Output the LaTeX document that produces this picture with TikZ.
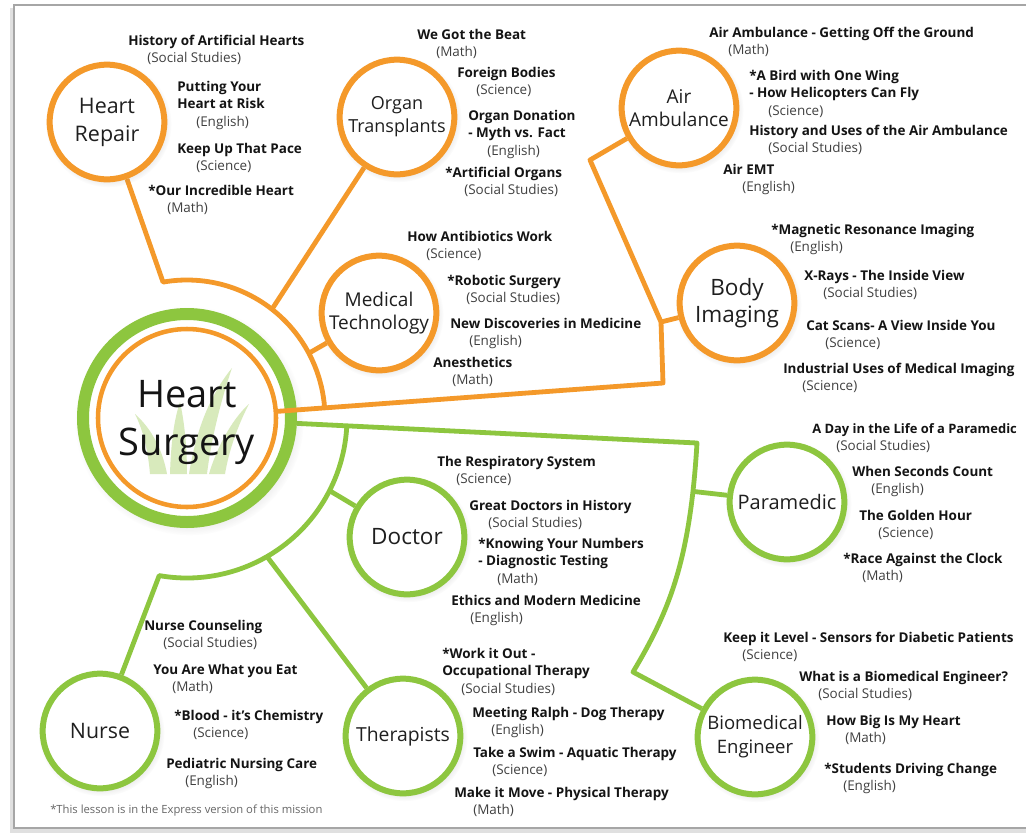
\documentclass[tikz,border=0pt]{standalone}
\usepackage{fontspec}
\setmainfont{Open Sans}
\usetikzlibrary{calc,shadows,fadings}
\definecolor{hsorange}{RGB}{244,153,42}
\definecolor{hsgreen}{RGB}{141,198,63}
\definecolor{hsgrass}{RGB}{216,234,188}
\pgfdeclarelayer{back}
\pgfdeclarelayer{links}
\pgfsetlayers{back,links,main}

% one lesson: name, x, baseline y, title, subject
\newcommand\lsn[5]{%
  \node[ttl] (#1) at (#2,#3) {#4};
  \node[sbj] (#1s) at (#2+19,#3+17) {#5};}
% lesson with a two-line title
\newcommand\lsnn[6]{%
  \node[ttl] (#1) at (#2,#3) {#4};
  \node[ttl] (#1b) at (#2,#3+17.5) {#5};
  \node[sbj] (#1s) at (#2+19,#3+35) {#6};}

\tikzset{
  ocirc/.style={circle, draw=hsorange, line width=4.5pt, fill=white,
    minimum size=86pt, inner sep=0pt, align=center, text=black!88,
    circular drop shadow={opacity=0.2, shadow xshift=1pt, shadow yshift=-1.5pt}},
  gcirc/.style={ocirc, draw=hsgreen},
  hubring/.style={circle, draw=hsgreen, line width=9pt, fill=white,
    minimum size=156pt, inner sep=0pt,
    circular drop shadow={opacity=0.22, shadow xshift=1.5pt, shadow yshift=-2pt}},
  hubcore/.style={circle, draw=hsorange, line width=3.4pt, fill=white,
    minimum size=133.5pt, inner sep=0pt},
  hubtxt/.style={anchor=base, inner sep=0pt, text=black!92,
    font=\fontsize{28.5pt}{34pt}\selectfont},
  oline/.style={draw=hsorange, line width=3.6pt, line join=round},
  gline/.style={draw=hsgreen, line width=3.6pt, line join=round},
  ttl/.style={anchor=base west, inner sep=0pt, text=black!92,
    font=\bfseries\fontsize{10.1pt}{12pt}\selectfont},
  sbj/.style={anchor=base west, inner sep=0pt, text=black!75,
    font=\fontsize{10.1pt}{12pt}\selectfont},
  note/.style={anchor=base west, inner sep=0pt, text=black!60,
    font=\fontsize{8.45pt}{10pt}\selectfont},
}

\begin{document}
\begin{tikzpicture}[x=0.75pt,y=-0.75pt]
\useasboundingbox (0,0) rectangle (1026,833);

% page frame
\begin{pgfonlayer}{back}
  \fill[white] (0,0) rectangle (1026,833);
  \draw[black!12, line width=3pt] (12,8) -- (12,831) -- (1040,831);
  \draw[black!35, line width=1.2pt] (14,5) rectangle (1045,828);
\end{pgfonlayer}

% central topic
\node[hubring] (hub) at (187,418) {};
\node[hubcore] (hubin) at (187,418) {};
\begin{scope}[fill=hsgrass]
  \fill (150,474) .. controls (148,450) and (143,430) .. (135,414)
        .. controls (153,430) and (163,452) .. (167,474) -- cycle;
  \fill (170,474) .. controls (171,442) and (174,420) .. (180,402)
        .. controls (185,425) and (187,450) .. (187,474) -- cycle;
  \fill (189,474) .. controls (196,430) and (210,395) .. (232,368)
        .. controls (221,400) and (211,440) .. (207,474) -- cycle;
  \fill (209,474) .. controls (216,450) and (231,420) .. (249,404)
        .. controls (238,425) and (229,450) .. (225,474) -- cycle;
\end{scope}
\node[hubtxt] (hubt1) at (187,407) {Heart};
\node[hubtxt] (hubt2) at (187,455) {Surgery};

% subtopics
\node[ocirc, font=\fontsize{16.1pt}{21pt}\selectfont] (repair) at (107,122) {Heart\\Repair};
\node[ocirc, font=\fontsize{13.5pt}{17.25pt}\selectfont] (organ) at (397,117) {Organ\\Transplants};
\node[ocirc, font=\fontsize{14.25pt}{17.25pt}\selectfont] (airamb) at (679,108) {Air\\Ambulance};
\node[ocirc, font=\fontsize{14.25pt}{17.25pt}\selectfont] (medtech) at (379,313) {Medical\\Technology};
\node[ocirc, font=\fontsize{16.9pt}{20.25pt}\selectfont] (body) at (737,303) {Body\\Imaging};
\node[gcirc, font=\fontsize{16.9pt}{20pt}\selectfont] (doctor) at (407,537) {Doctor};
\node[gcirc, font=\fontsize{15pt}{18pt}\selectfont] (para) at (787,502) {Paramedic};
\node[gcirc, font=\fontsize{16pt}{19pt}\selectfont] (nurse) at (100,731) {Nurse};
\node[gcirc, font=\fontsize{14.5pt}{18pt}\selectfont] (thera) at (403,736) {Therapists};
\node[gcirc, font=\fontsize{13.9pt}{18pt}\selectfont] (bio) at (755,737) {Biomedical\\Engineer};

% junction points
\path (hub.center) ++(-100:138) coordinate (jrep);
\path (hub.center) ++(-52:138) coordinate (jorg);
\path (hub.center) ++(-28:138) coordinate (jmed);
\coordinate (jcorner) at (663,383);
\coordinate (jbody) at (661,322);
\coordinate (jair) at (590,160);
\coordinate (jgtop) at (697,443);
\coordinate (jbio) at (633,672);
\path (hub.center) ++(3.6:160) coordinate (jgarc);
\path (hub.center) ++(27:160) coordinate (jdoc);
\path (hub.center) ++(60:160) coordinate (jther);

% connectors
\begin{pgfonlayer}{links}
  \draw[oline] (repair) -- (jrep) arc[start angle=-100, end angle=-4.2, radius=138];
  \draw[oline] (organ) -- (jorg);
  \draw[oline] (medtech) -- (jmed);
  \draw[oline] (jbody) -- (body);
  \draw[gline] (hub) -- (jgtop) .. controls (690,560) and (670,610) ..
        coordinate[pos=0.15] (jpara) (jbio) -- (bio);
  \draw[gline] (jpara) -- (para);
  \draw[gline] (jgarc) arc[start angle=3.6, end angle=100, radius=160] -- (nurse);
  \draw[gline] (jdoc) -- (doctor);
  \draw[gline] (jther) -- (thera);
\end{pgfonlayer}
\draw[oline] (hubin) -- (jcorner) -- (jbody) -- (jair) -- (airamb);

% lessons: Heart Repair
\lsn{hr1}{128}{45}{History of Artificial Hearts}{(Social Studies)}
\lsnn{hr2}{177}{91}{Putting Your}{Heart at Risk}{(English)}
\lsn{hr3}{177}{153}{Keep Up That Pace}{(Science)}
\lsn{hr4}{148}{195}{*Our Incredible Heart}{(Math)}
% Organ Transplants
\lsn{ot1}{417}{39}{We Got the Beat}{(Math)}
\lsn{ot2}{457}{77}{Foreign Bodies}{(Science)}
\lsnn{ot3}{468}{120}{Organ Donation}{- Myth vs. Fact}{(English)}
\lsn{ot4}{445}{177}{*Artificial Organs}{(Social Studies)}
% Air Ambulance
\lsn{aa1}{709}{37}{Air Ambulance - Getting Off the Ground}{(Math)}
\lsnn{aa2}{749}{80}{*A Bird with One Wing}{- How Helicopters Can Fly}{(Science)}
\lsn{aa3}{749}{135}{History and Uses of the Air Ambulance}{(Social Studies)}
\lsn{aa4}{723}{174}{Air EMT}{(English)}
% Medical Technology
\lsn{mt1}{407}{241}{How Antibiotics Work}{(Science)}
\lsn{mt2}{447}{285}{*Robotic Surgery}{(Social Studies)}
\lsn{mt3}{450}{328}{New Discoveries in Medicine}{(English)}
\lsn{mt4}{433}{367}{Anesthetics}{(Math)}
% Body Imaging
\lsn{bi1}{771}{234}{*Magnetic Resonance Imaging}{(English)}
\lsn{bi2}{804}{280}{X-Rays - The Inside View}{(Social Studies)}
\lsn{bi3}{806}{330}{Cat Scans- A View Inside You}{(Science)}
\lsn{bi4}{783}{373}{Industrial Uses of Medical Imaging}{(Science)}
% Doctor
\lsn{dr1}{437}{466}{The Respiratory System}{(Science)}
\lsn{dr2}{469}{510}{Great Doctors in History}{(Social Studies)}
\lsnn{dr3}{478}{548}{*Knowing Your Numbers}{- Diagnostic Testing}{(Math)}
\lsn{dr4}{451}{605}{Ethics and Modern Medicine}{(English)}
% Paramedic
\node[ttl, font=\bfseries\fontsize{9.7pt}{12pt}\selectfont] (pm1) at (812,433) {A Day in the Life of a Paramedic};
\node[sbj] (pm1s) at (836,450) {(Social Studies)};
\lsn{pm2}{852}{476}{When Seconds Count}{(English)}
\lsn{pm3}{859}{520}{The Golden Hour}{(Science)}
\lsn{pm4}{843}{563}{*Race Against the Clock}{(Math)}
% Nurse
\lsn{nu1}{144}{630}{Nurse Counseling}{(Social Studies)}
\lsn{nu2}{153}{674}{You Are What you Eat}{(Math)}
\lsn{nu3}{174}{720}{*Blood - it's Chemistry}{(Science)}
\lsn{nu4}{166}{768}{Pediatric Nursing Care}{(English)}
% Therapists
\lsnn{th1}{442}{658}{*Work it Out -}{Occupational Therapy}{(Social Studies)}
\lsn{th2}{472}{717}{Meeting Ralph - Dog Therapy}{(English)}
\lsn{th3}{473}{757}{Take a Swim - Aquatic Therapy}{(Science)}
\lsn{th4}{454}{797}{Make it Move - Physical Therapy}{(Math)}
% Biomedical Engineer
\lsn{be1}{723}{642}{Keep it Level - Sensors for Diabetic Patients}{(Science)}
\lsn{be2}{799}{681}{What is a Biomedical Engineer?}{(Social Studies)}
\lsn{be3}{826}{725}{How Big Is My Heart}{(Math)}
\lsn{be4}{824}{773}{*Students Driving Change}{(English)}

\node[note] (fn) at (50,813) {*This lesson is in the Express version of this mission};
\end{tikzpicture}
\end{document}
